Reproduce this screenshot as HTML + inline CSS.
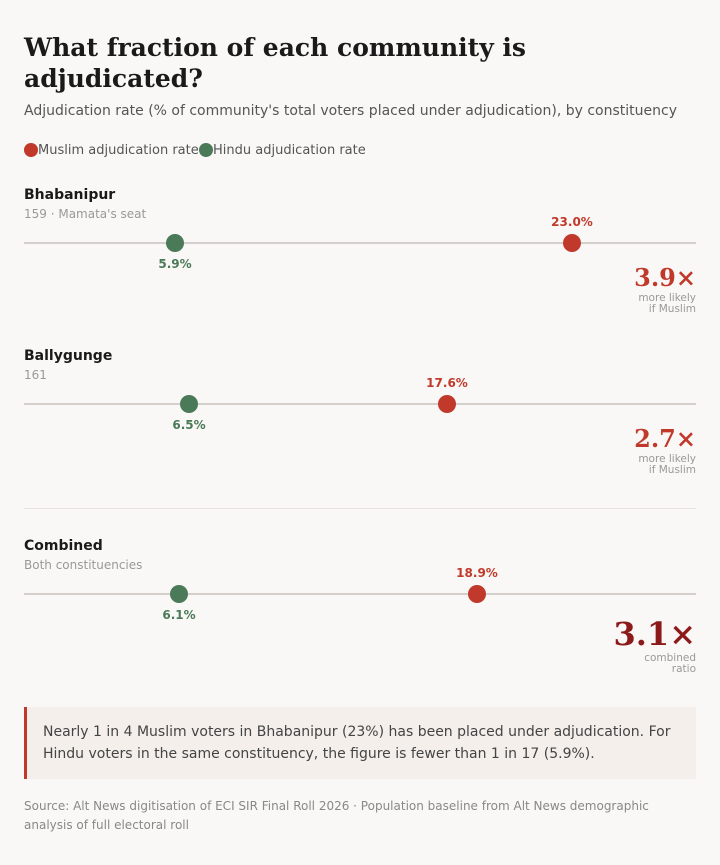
<!DOCTYPE html>
<html><head><meta charset="utf-8"><style>
body{margin:0;background:#faf8f6;width:720px;height:865px;position:relative;font-family:"DejaVu Sans","Liberation Sans",sans-serif;overflow:hidden}
.a{position:absolute;white-space:nowrap}
h1{position:absolute;left:24px;top:32px;margin:0;font:bold 25px/31px "DejaVu Serif","Liberation Serif",serif;color:#1a1a1a}
.line{position:absolute;left:24px;width:672px;height:2px;background:#d4cfcb}
.dot{position:absolute;width:18px;height:18px;border-radius:50%}
.r{background:#c0392b}.g{background:#4a7a57}
.lr{color:#c0392b;font-weight:bold;font-size:12px;transform:translateX(-50%)}
.lg{color:#4a7a57;font-weight:bold;font-size:12px;transform:translateX(-50%)}
.name{font-weight:bold;font-size:14px;color:#1a1a1a}
.sub{font-size:12px;color:#999}
.big{right:24px;font:bold 24px "DejaVu Serif","Liberation Serif",serif;color:#c0392b;text-align:right}
.sm{right:24px;font-size:10.5px;line-height:11px;color:#999;text-align:right}
</style></head><body>
<h1>What fraction of each community is<br>adjudicated?</h1>
<div class="a" style="left:24px;top:103px;font-size:14px;color:#555">Adjudication rate (% of community's total voters placed under adjudication), by constituency</div>
<div class="dot r" style="left:24px;top:143px;width:14px;height:14px"></div>
<div class="a" style="left:38px;top:143px;font-size:13px;color:#555">Muslim adjudication rate</div>
<div class="dot g" style="left:199px;top:143px;width:14px;height:14px"></div>
<div class="a" style="left:213px;top:143px;font-size:13px;color:#555">Hindu adjudication rate</div>

<div class="a name" style="left:24px;top:187px">Bhabanipur</div>
<div class="a sub" style="left:24px;top:207px">159 · Mamata's seat</div>
<div class="line" style="top:242px"></div>
<div class="dot g" style="left:166px;top:234px"></div>
<div class="dot r" style="left:563px;top:234px"></div>
<div class="a lr" style="left:572px;top:215px">23.0%</div>
<div class="a lg" style="left:175px;top:257px">5.9%</div>
<div class="a big" style="top:263px">3.9×</div>
<div class="a sm" style="top:293px">more likely<br>if Muslim</div>

<div class="a name" style="left:24px;top:348px">Ballygunge</div>
<div class="a sub" style="left:24px;top:368px">161</div>
<div class="line" style="top:403px"></div>
<div class="dot g" style="left:180px;top:395px"></div>
<div class="dot r" style="left:438px;top:395px"></div>
<div class="a lr" style="left:447px;top:376px">17.6%</div>
<div class="a lg" style="left:189px;top:418px">6.5%</div>
<div class="a big" style="top:424px">2.7×</div>
<div class="a sm" style="top:454px">more likely<br>if Muslim</div>

<div class="a" style="left:24px;top:508px;width:672px;height:1px;background:#e6e2de"></div>

<div class="a name" style="left:24px;top:538px">Combined</div>
<div class="a sub" style="left:24px;top:558px">Both constituencies</div>
<div class="line" style="top:593px"></div>
<div class="dot g" style="left:170px;top:585px"></div>
<div class="dot r" style="left:468px;top:585px"></div>
<div class="a lr" style="left:477px;top:566px">18.9%</div>
<div class="a lg" style="left:179px;top:608px">6.1%</div>
<div class="a big" style="top:615px;font-size:32px;color:#8b1a1a">3.1×</div>
<div class="a sm" style="top:653px">combined<br>ratio</div>

<div class="a" style="left:24px;top:707px;width:672px;height:72px;background:#f4efeb;border-left:3px solid #c0392b;box-sizing:border-box"></div>
<div class="a" style="left:43px;top:721px;font-size:14px;line-height:22px;color:#444">Nearly 1 in 4 Muslim voters in Bhabanipur (23%) has been placed under adjudication. For<br>Hindu voters in the same constituency, the figure is fewer than 1 in 17 (5.9%).</div>
<div class="a" style="left:24px;top:797px;font-size:12px;line-height:19px;color:#888">Source: Alt News digitisation of ECI SIR Final Roll 2026 · Population baseline from Alt News demographic<br>analysis of full electoral roll</div>
</body></html>
